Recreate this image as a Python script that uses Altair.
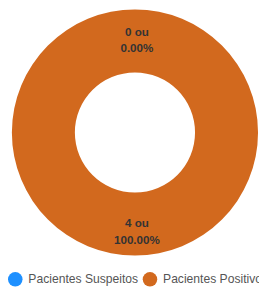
import altair as alt
import pandas as pd

categories = ["Pacientes Suspeitos", "Pacientes Positivos"]
values = [0, 4]
colors = ["#1E90FF", "#D2691E"]

total = sum(values)
labels = [f"{v} ou\n{v / total * 100:.2f}%" for v in values]
df = pd.DataFrame({"cat": categories, "val": values, "label": labels, "idx": list(range(len(values)))})

CX, CY = 131, 124

base = alt.Chart(df).encode(
    theta=alt.Theta("val:Q", stack=True),
    order=alt.Order("idx:Q"),
    x=alt.value(CX),
    y=alt.value(CY),
)

arc = base.mark_arc(innerRadius=62, outerRadius=127, stroke=None).encode(
    color=alt.Color(
        "cat:N",
        scale=alt.Scale(domain=categories, range=colors),
        legend=alt.Legend(
            title=None,
            orient="none",
            legendX=0,
            legendY=268,
            direction="horizontal",
            symbolType="circle",
            symbolSize=225,
            symbolStrokeWidth=0,
            labelFont="Arial",
            labelFontSize=12.5,
            labelColor="#555",
            labelOffset=6,
            columnPadding=4,
            labelLimit=300,
        ),
    )
)

text = base.mark_text(
    radius=99, font="Arial", fontSize=12, fontWeight="bold", color="#333",
    lineBreak="\n", lineHeight=17, align="center", baseline="middle", dx=2, dy=-5,
).encode(text="label:N")

chart = (arc + text).properties(
    width=259, height=281, padding=0, autosize=alt.AutoSizeParams(type="none")
).configure_view(stroke=None)

chart.save("out.html", embed_options={"renderer": "svg", "actions": False})
